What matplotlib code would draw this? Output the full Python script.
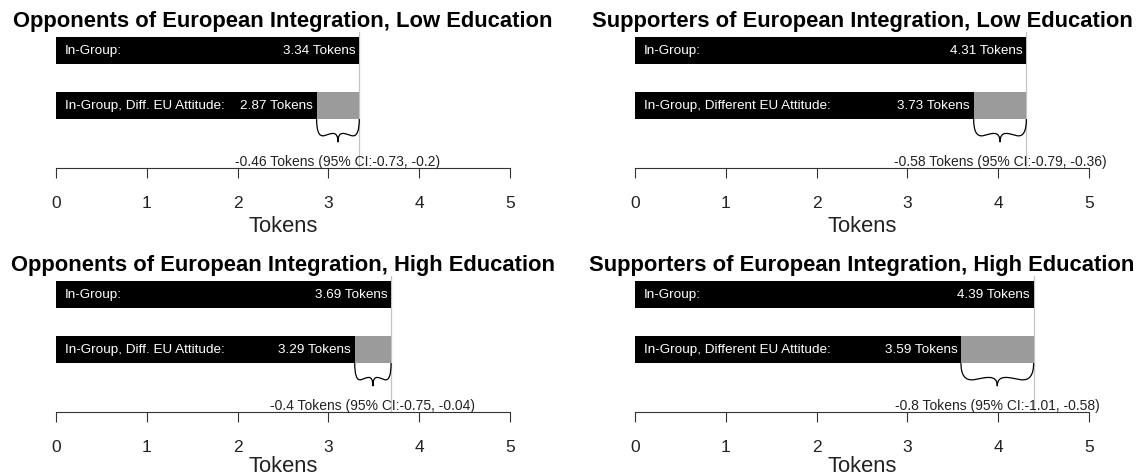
"""
Token allocation: in-group vs. in-group with a different EU attitude,
split by EU attitude and education. Four panels, R base-graphics look.
"""
import matplotlib
matplotlib.use("Agg")
import matplotlib.pyplot as plt
from matplotlib.path import Path
from matplotlib.patches import PathPatch

plt.rcParams["font.family"] = ["Liberation Sans", "DejaVu Sans"]

# ---------------------------------------------------------------------------
# Data
# ---------------------------------------------------------------------------
titles = [
    "Opponents of European Integration, Low Education",
    "Supporters of European Integration, Low Education",
    "Opponents of European Integration, High Education",
    "Supporters of European Integration, High Education",
]
row1_labels = ["In-Group:"] * 4
row2_labels = [
    "In-Group, Diff. EU Attitude:",
    "In-Group, Different EU Attitude:",
    "In-Group, Diff. EU Attitude:",
    "In-Group, Different EU Attitude:",
]
ingroup = [3.34, 4.31, 3.69, 4.39]
diff_group = [2.87, 3.73, 3.29, 3.59]
effect = [-0.46, -0.58, -0.4, -0.8]
ci_low = [-0.73, -0.79, -0.75, -1.01]
ci_high = [-0.2, -0.36, -0.04, -0.58]
ticks = [0, 1, 2, 3, 4, 5]

# ---------------------------------------------------------------------------
# Layout
# ---------------------------------------------------------------------------
W, H = 1145, 476
COL_X = [56, 635]          # pixel x of tick 0
AX_W = 454                 # pixel width of 0..5
ROW_BOTTOM = [168, 412]    # pixel y of the axis line
AX_H = 136
TITLE_PAD = [3.0, 0.5]
LABEL_PAD = [3.5, 0.8]
BAR_H = 0.49
YLIM = (-0.136, 2.34)      # axis line sits at YLIM[0]

GREY = "#9b9b9b"
VLINE = "#c4c4c4"


def brace(ax, x1, x2, y_top, h):
    """Curly brace opening upward, tip pointing down."""
    pts = [(0, 0), (0, 0.5), (0.05, 0.78), (0.18, 0.72),
           (0.33, 0.64), (0.5, 0.45), (0.5, 1.0),
           (0.5, 0.45), (0.67, 0.64), (0.82, 0.72),
           (0.95, 0.78), (1.0, 0.5), (1.0, 0.0)]
    verts = [(x1 + u * (x2 - x1), y_top - v * h) for u, v in pts]
    codes = [Path.MOVETO] + [Path.CURVE4] * 12
    ax.add_patch(PathPatch(Path(verts, codes), fill=False, lw=0.9,
                           edgecolor="black", clip_on=False))


fig = plt.figure(figsize=(W / 100, H / 100), dpi=100)

for i in range(4):
    r, c = divmod(i, 2)
    ax = fig.add_axes([COL_X[c] / W, (H - ROW_BOTTOM[r]) / H, AX_W / W, AX_H / H])
    ax.set_xlim(0, 5)
    ax.set_ylim(*YLIM)

    # vertical reference line at the in-group value, down to the axis
    ax.plot([ingroup[i], ingroup[i]], [YLIM[0], YLIM[1]], color=VLINE, lw=0.9,
            zorder=1, clip_on=False)

    # bars
    ax.barh(2, ingroup[i], height=BAR_H, color="black", zorder=2)
    ax.barh(1, diff_group[i], height=BAR_H, color="black", zorder=2)
    ax.barh(1, ingroup[i] - diff_group[i], left=diff_group[i], height=BAR_H,
            color=GREY, zorder=2)

    # labels inside bars
    ax.text(0.1, 2, row1_labels[i], color="white", fontsize=9.7,
            va="center", ha="left", zorder=3)
    ax.text(0.1, 1, row2_labels[i], color="white", fontsize=9.7,
            va="center", ha="left", zorder=3)
    ax.text(ingroup[i] - 0.04, 2, f"{ingroup[i]:.2f} Tokens", color="white",
            fontsize=9.7, va="center", ha="right", zorder=3)
    ax.text(diff_group[i] - 0.04, 1, f"{diff_group[i]:.2f} Tokens", color="white",
            fontsize=9.7, va="center", ha="right", zorder=3)

    # brace + effect annotation sitting on the axis line
    brace(ax, diff_group[i], ingroup[i], 1 - BAR_H / 2, 0.42)
    mid = (diff_group[i] + ingroup[i]) / 2
    ax.text(mid, YLIM[0] + 0.04,
            f"{effect[i]:g} Tokens (95% CI:{ci_low[i]:g}, {ci_high[i]:g})",
            fontsize=10, ha="center", va="baseline", color="#222222", zorder=3)

    # R-style axis
    for s in ("top", "left", "right"):
        ax.spines[s].set_visible(False)
    ax.spines["bottom"].set_bounds(0, 5)
    ax.spines["bottom"].set_linewidth(0.8)
    ax.spines["bottom"].set_color("#333333")
    ax.set_yticks([])
    ax.set_xticks(ticks)
    ax.set_xticklabels([str(t) for t in ticks])
    ax.tick_params(axis="x", length=7, width=0.8, color="#333333",
                   pad=13.3, labelsize=12.5, labelcolor="#222222")
    ax.set_xlabel("Tokens", fontsize=15.8, labelpad=LABEL_PAD[r], color="#222222")
    ax.set_title(titles[i], fontsize=15.8, fontweight="bold", pad=TITLE_PAD[r])
    ax.patch.set_visible(False)

fig.savefig("out.png", dpi=100)
